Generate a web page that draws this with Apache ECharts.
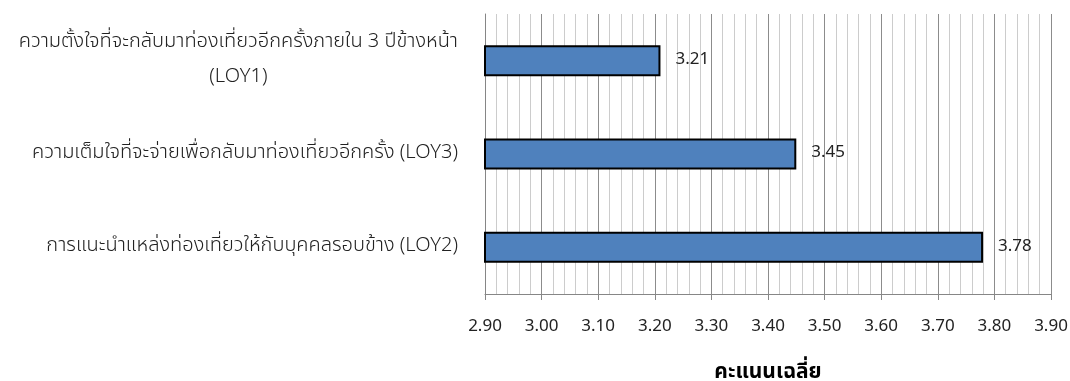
<!DOCTYPE html>
<html><head><meta charset="utf-8">
<script src="https://cdn.jsdelivr.net/npm/echarts@6/dist/echarts.min.js"></script>
<style>html,body{margin:0;padding:0;background:#fff}#c{width:1070px;height:381px}</style>
</head><body><div id="c"></div>
<script>
const categories = [
  'ความตั้งใจที่จะกลับมาท่องเที่ยวอีกครั้งภายใน 3 ปีข้างหน้า\n(LOY1)',
  'ความเต็มใจที่จะจ่ายเพื่อกลับมาท่องเที่ยวอีกครั้ง (LOY3)',
  'การแนะนำแหล่งท่องเที่ยวให้กับบุคคลรอบข้าง (LOY2)'
];
const values = [3.21, 3.45, 3.78];
const axisName = 'คะแนนเฉลี่ย';
const FONT = '"Noto Sans Thai","Noto Sans","Tahoma",sans-serif';

const chart = echarts.init(document.getElementById('c'));
chart.setOption({
  animation: false,
  grid: {left: 485, right: 19, top: 14, bottom: 87, outerBoundsMode: 'none', containLabel: false},
  xAxis: {
    type: 'value', min: 2.9, max: 3.9, interval: 0.1,
    name: axisName, nameLocation: 'middle', nameGap: 69,
    nameTextStyle: {fontFamily: FONT, fontSize: 21, fontWeight: 'bold', color: '#000'},
    axisLine: {show: true, lineStyle: {color: '#868686', width: 1}},
    axisTick: {show: true, length: 6, lineStyle: {color: '#868686'}},
    axisLabel: {fontFamily: FONT, fontSize: 17, color: '#222', margin: 25,
      formatter: v => v.toFixed(2)},
    splitLine: {show: true, lineStyle: {color: '#8c8c8c', width: 1}},
    minorTick: {show: false, splitNumber: 5},
    minorSplitLine: {show: true, lineStyle: {color: '#cccccc', width: 1}}
  },
  yAxis: {
    type: 'category', data: categories, inverse: true,
    axisLine: {show: true, lineStyle: {color: '#868686'}},
    axisTick: {show: false},
    axisLabel: {
      fontFamily: FONT, fontSize: 20, color: '#222', margin: 27,
      formatter: v => '{a|' + v.split('\n').join('}\n{a|') + '}',
      rich: {a: {fontFamily: FONT, fontSize: 20, fontWeight: 300, color: '#222', align: 'center', lineHeight: 35}}
    }
  },
  series: [{
    type: 'bar', data: values, barWidth: 31,
    itemStyle: {color: '#4F81BD', borderColor: '#000', borderWidth: 2},
    label: {show: true, position: 'right', distance: 15, fontFamily: FONT, fontSize: 17, color: '#222',
      formatter: p => p.value.toFixed(2)}
  }]
});
</script></body></html>
